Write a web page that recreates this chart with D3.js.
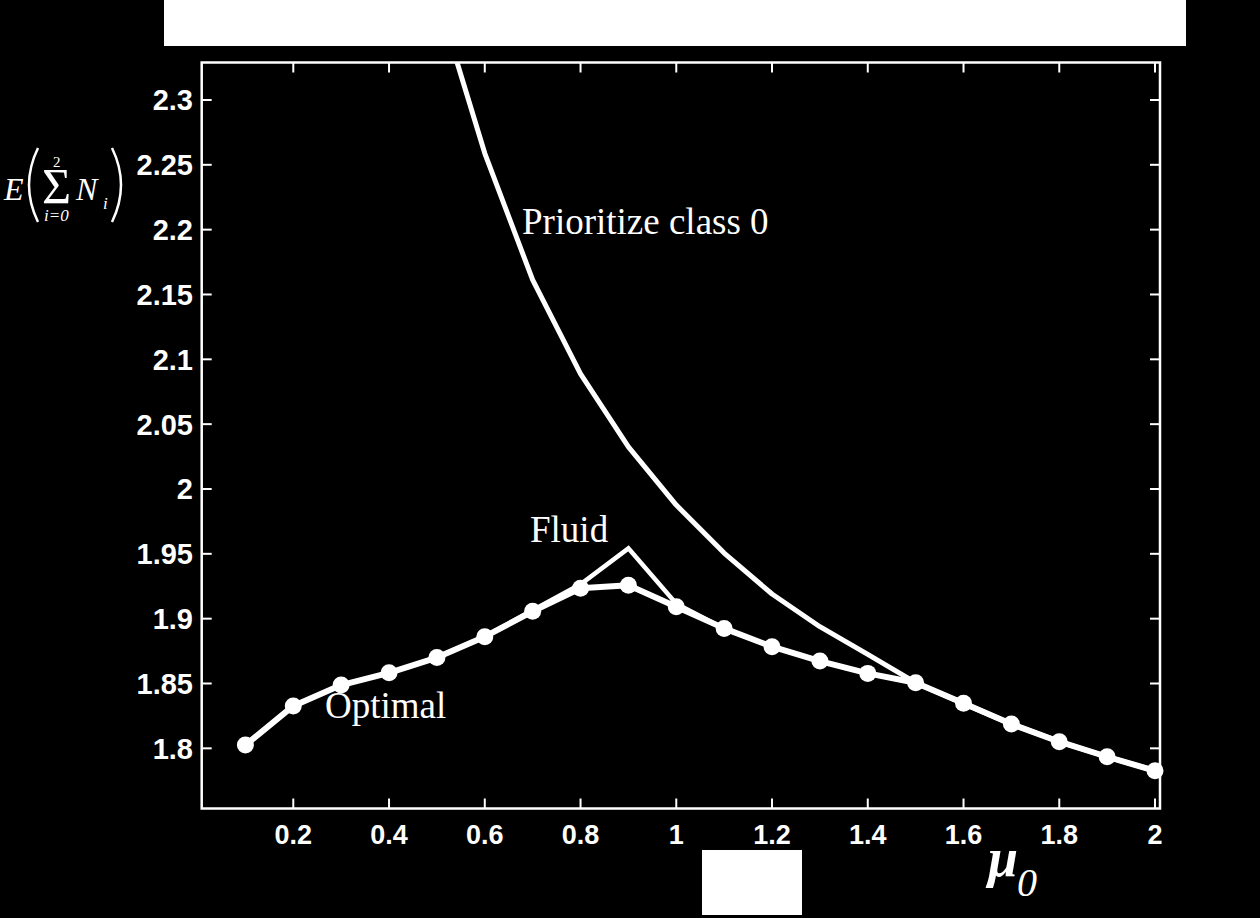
<!DOCTYPE html>
<html><head><meta charset="utf-8">
<script src="https://cdn.jsdelivr.net/npm/d3@7"></script>
<style>html,body{margin:0;padding:0;background:#000;overflow:hidden}</style>
</head><body>
<svg id="c" width="1260" height="918"></svg>
<script>
// ---- data ----
const muValues   = [0.1,0.2,0.3,0.4,0.5,0.6,0.7,0.8,0.9,1.0,1.1,1.2,1.3,1.4,1.5,1.6,1.7,1.8,1.9,2.0];
const optimal    = [1.8025,1.8327,1.8488,1.8582,1.8700,1.8861,1.9057,1.9234,1.9258,1.9092,1.8925,1.8784,1.8673,1.8578,1.8506,1.8347,1.8187,1.8051,1.7935,1.7827];
const fluid      = [1.8025,1.8327,1.8488,1.8582,1.8700,1.8861,1.9065,1.9265,1.9542,1.9115,1.8925,1.8784,1.8673,1.8578,1.8506,1.8347,1.8187,1.8051,1.7935,1.7827];
const prioMu     = [0.5,0.6,0.7,0.8,0.9,1.0,1.1,1.2,1.3,1.4,1.5,1.6,1.7,1.8,1.9,2.0];
const prioritize = [2.380,2.2589,2.1612,2.0888,2.0325,1.9876,1.9506,1.9190,1.8938,1.8725,1.8506,1.8347,1.8187,1.8051,1.7935,1.7827];
const xTicks = [0.2,0.4,0.6,0.8,1.0,1.2,1.4,1.6,1.8,2.0];
const xTickLabels = ["0.2","0.4","0.6","0.8","1","1.2","1.4","1.6","1.8","2"];
const yTicks = [1.8,1.85,1.9,1.95,2.0,2.05,2.1,2.15,2.2,2.25,2.3];
const yTickLabels = ["1.8","1.85","1.9","1.95","2","2.05","2.1","2.15","2.2","2.25","2.3"];

// ---- layout ----
const L = 201.7, R = 1160, T = 62.5, B = 808.5;
const x = d3.scaleLinear().domain([0.0087, 2.0104]).range([L, R]);
const y = d3.scaleLinear().domain([1.7536, 2.3289]).range([B, T]);

const svg = d3.select("#c");
svg.append("rect").attr("width",1260).attr("height",918).attr("fill","#000");

// white boxes
svg.append("rect").attr("x",164).attr("y",0).attr("width",1022).attr("height",46).attr("fill","#fff");
svg.append("rect").attr("x",702).attr("y",850).attr("width",100).attr("height",65).attr("fill","#fff");

svg.append("clipPath").attr("id","clip").append("rect")
  .attr("x",L).attr("y",T).attr("width",R-L).attr("height",B-T);

const plot = svg.append("g").attr("clip-path","url(#clip)");
const line = d3.line().x(d=>x(d[0])).y(d=>y(d[1]));

plot.append("path").datum(prioMu.map((m,i)=>[m,prioritize[i]]))
  .attr("d",line).attr("fill","none").attr("stroke","#fff").attr("stroke-width",5).attr("stroke-linejoin","round");
plot.append("path").datum(muValues.map((m,i)=>[m,fluid[i]]))
  .attr("d",line).attr("fill","none").attr("stroke","#fff").attr("stroke-width",4.5).attr("stroke-linejoin","miter");
plot.append("path").datum(muValues.map((m,i)=>[m,optimal[i]]))
  .attr("d",line).attr("fill","none").attr("stroke","#fff").attr("stroke-width",6).attr("stroke-linejoin","round");
svg.append("g").selectAll("circle").data(muValues.map((m,i)=>[m,optimal[i]])).join("circle")
  .attr("cx",d=>x(d[0])).attr("cy",d=>y(d[1])).attr("r",8.5).attr("fill","#fff");

// frame
svg.append("rect").attr("x",L).attr("y",T).attr("width",R-L).attr("height",B-T)
  .attr("fill","none").attr("stroke","#fff").attr("stroke-width",2.5);

// ticks (inward, mirrored)
const tk = svg.append("g").attr("stroke","#fff").attr("stroke-width",2);
xTicks.forEach(v=>{
  tk.append("line").attr("x1",x(v)).attr("x2",x(v)).attr("y1",B).attr("y2",B-10);
  tk.append("line").attr("x1",x(v)).attr("x2",x(v)).attr("y1",T).attr("y2",T+10);
});
yTicks.forEach(v=>{
  tk.append("line").attr("x1",L).attr("x2",L+10).attr("y1",y(v)).attr("y2",y(v));
  tk.append("line").attr("x1",R).attr("x2",R-10).attr("y1",y(v)).attr("y2",y(v));
});

// tick labels
const sans = "'Liberation Sans', Arial, Helvetica, sans-serif";
svg.append("g").selectAll("text").data(xTicks).join("text")
  .attr("x",d=>x(d)).attr("y",844).attr("text-anchor","middle")
  .attr("font-family",sans).attr("font-weight","bold").attr("font-size",27).attr("fill","#fff")
  .text((d,i)=>xTickLabels[i]);
svg.append("g").selectAll("text").data(yTicks).join("text")
  .attr("x",193).attr("y",d=>y(d)+10.5).attr("text-anchor","end")
  .attr("font-family",sans).attr("font-weight","bold").attr("font-size",29).attr("fill","#fff")
  .text((d,i)=>yTickLabels[i]);

// series labels
const serif = "'Liberation Serif', 'Times New Roman', Times, serif";
const lab = (t,px,py)=>svg.append("text").attr("x",px).attr("y",py)
  .attr("font-family",serif).attr("font-size",37).attr("fill","#fff").text(t);
lab("Prioritize class 0",522,234);
lab("Fluid",530,542);
lab("Optimal",325,718);

// x axis title mu_0
const mu = svg.append("text").attr("font-family",serif).attr("fill","#fff");
mu.append("tspan").attr("x",988).attr("y",876).attr("font-size",54).attr("font-weight","bold").attr("font-style","italic").text("μ");
mu.append("tspan").attr("x",1017).attr("y",896).attr("font-size",40).attr("font-style","italic").text("0");

// y axis title E( sum_{i=0}^{2} N_i )
const yl = svg.append("g").attr("fill","#fff").attr("font-family",serif);
yl.append("path").attr("d","M38,148 Q20,185 38,222").attr("fill","none").attr("stroke","#fff").attr("stroke-width",2.5);
yl.append("path").attr("d","M112,148 Q130,185 112,222").attr("fill","none").attr("stroke","#fff").attr("stroke-width",2.5);
const yt = yl.append("text");
yt.append("tspan").attr("x",4).attr("y",200).attr("font-size",32).attr("font-style","italic").text("E");
yt.append("tspan").attr("x",42).attr("y",203).attr("font-size",50).attr("font-style","normal").text("Σ");
yt.append("tspan").attr("x",53).attr("y",167).attr("font-size",15).attr("font-style","normal").text("2");
yt.append("tspan").attr("x",44).attr("y",221).attr("font-size",17).attr("font-style","italic").text("i=0");
yt.append("tspan").attr("x",76).attr("y",200).attr("font-size",32).attr("font-style","italic").text("N");
yt.append("tspan").attr("x",103).attr("y",209).attr("font-size",17).attr("font-style","italic").text("i");
</script>
</body></html>
